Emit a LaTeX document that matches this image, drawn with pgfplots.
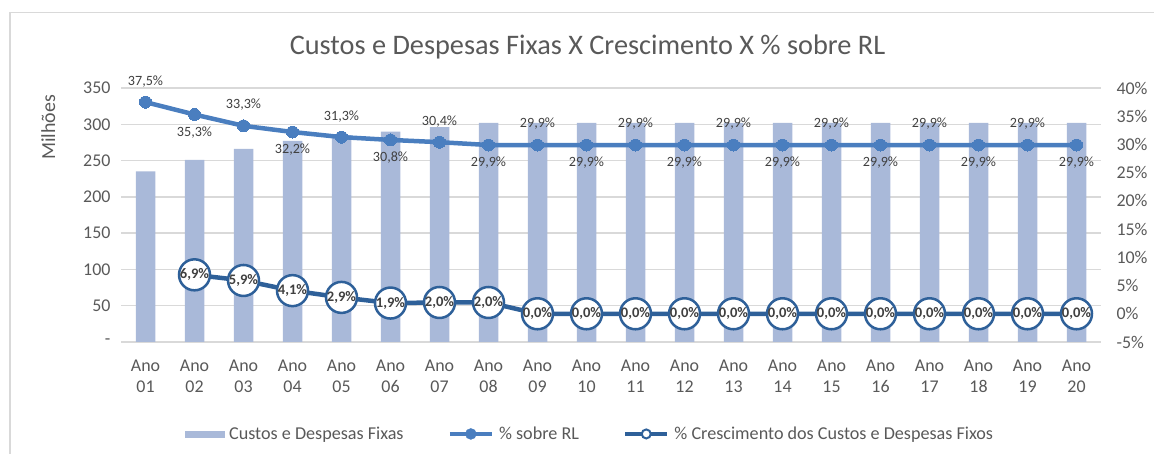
\documentclass[border=0pt]{standalone}
\usepackage{pgfplots}
\pgfplotsset{compat=1.18}
\usepackage{fontspec}
\setmainfont{Carlito}
\definecolor{txt}{HTML}{595959}
\definecolor{lbl}{HTML}{404040}
\definecolor{barc}{HTML}{A9B9D9}
\definecolor{lone}{HTML}{4A7EBF}
\definecolor{ltwo}{HTML}{2E6099}
\definecolor{gridc}{HTML}{D9D9D9}
\begin{document}
\begin{tikzpicture}
\path[use as bounding box] (0bp,0bp) rectangle (1154bp,454bp);
\draw[gridc, line width=1.5bp] (10bp,0bp) -- (10bp,441.5bp) -- (1154bp,441.5bp);
\node[text=txt, anchor=base, font=\fontsize{28.4}{32}\selectfont] at (587.5bp,399bp) {Custos e Despesas Fixas X Crescimento X \% sobre RL};
\node[text=txt, rotate=90, anchor=base, font=\fontsize{20}{24}\selectfont] at (55bp,326.5bp) {Milhões};

\begin{axis}[at={(121bp,112bp)}, anchor=south west, scale only axis, width=980bp, height=254bp,
  xmin=-0.5, xmax=19.5, ymin=0, ymax=350,
  axis line style={draw=none},
  ytick={0,50,...,350}, yticklabels={-,50,100,150,200,250,300,350},
  xtick={0,...,19},
  xticklabels={{Ano\\01},{Ano\\02},{Ano\\03},{Ano\\04},{Ano\\05},{Ano\\06},{Ano\\07},{Ano\\08},{Ano\\09},{Ano\\10},{Ano\\11},{Ano\\12},{Ano\\13},{Ano\\14},{Ano\\15},{Ano\\16},{Ano\\17},{Ano\\18},{Ano\\19},{Ano\\20}},
  major tick length=0,
  ymajorgrids, grid style={gridc, line width=1.3bp},
  tick label style={font=\fontsize{18}{22}\selectfont, text=txt},
  xticklabel style={align=center, yshift=-14bp},
  yticklabel style={xshift=-7bp},
  ybar, bar width=19.5bp,
  clip=false,
]
\addplot[fill=barc, draw=none] coordinates {(0,235) (1,251) (2,266) (3,277) (4,285) (5,290) (6,296) (7,302) (8,302) (9,302) (10,302) (11,302) (12,302) (13,302) (14,302) (15,302) (16,302) (17,302) (18,302) (19,302)};
\end{axis}

\begin{axis}[at={(121bp,112bp)}, anchor=south west, scale only axis, width=980bp, height=254bp,
  xmin=-0.5, xmax=19.5, ymin=-5, ymax=40,
  axis x line=none, axis y line*=right, axis line style={draw=none},
  ytick={-5,0,...,40}, yticklabels={-5\%,0\%,5\%,10\%,15\%,20\%,25\%,30\%,35\%,40\%},
  major tick length=0,
  tick label style={font=\fontsize{18}{22}\selectfont, text=txt},
  yticklabel style={anchor=west, xshift=12bp},
  clip=false,
  /pgf/number format/assume math mode=true,
  legend style={at={(0.4785,-0.362)}, anchor=center, draw=none, fill=none,
    legend columns=-1, font=\fontsize{18.2}{22}\selectfont, text=txt,
    /tikz/every odd column/.append style={column sep=3bp},
    /tikz/every even column/.append style={column sep=42bp}},
]
\addlegendimage{legend image code/.code={\fill[barc] (0bp,-3bp) rectangle (39bp,3bp);}}
\addlegendentry{Custos e Despesas Fixas}
\addlegendimage{legend image code/.code={\draw[lone, line width=4.5bp] (0bp,0bp) -- (42bp,0bp); \fill[lone] (21bp,0bp) circle (5.5bp);}}
\addlegendentry{\% sobre RL}
\addlegendimage{legend image code/.code={\draw[ltwo, line width=4.5bp] (0bp,0bp) -- (42bp,0bp); \filldraw[fill=white, draw=ltwo, line width=2bp] (21bp,0bp) circle (4.5bp);}}
\addlegendentry{\% Crescimento dos Custos e Despesas Fixos}

\addplot[forget plot, lone, line width=4.5bp, mark=*, mark size=6bp, mark options={fill=lone, draw=lone, line width=0bp}] coordinates {(0,37.5) (1,35.3) (2,33.3) (3,32.2) (4,31.3) (5,30.8) (6,30.4) (7,29.9) (8,29.9) (9,29.9) (10,29.9) (11,29.9) (12,29.9) (13,29.9) (14,29.9) (15,29.9) (16,29.9) (17,29.9) (18,29.9) (19,29.9)};
% labels above
\addplot[forget plot, draw=none, mark=none, point meta=y,
  nodes near coords={\pgfmathprintnumber[fixed,fixed zerofill,precision=1,use comma]{\pgfplotspointmeta}\%},
  every node near coord/.style={anchor=center, yshift=21bp, font=\fontsize{14.2}{16}\selectfont, text=lbl}]
  coordinates {(0,37.5) (2,33.3) (4,31.3) (6,30.4) (8,29.9) (10,29.9) (12,29.9) (14,29.9) (16,29.9) (18,29.9)};
% labels below
\addplot[forget plot, draw=none, mark=none, point meta=y,
  nodes near coords={\pgfmathprintnumber[fixed,fixed zerofill,precision=1,use comma]{\pgfplotspointmeta}\%},
  every node near coord/.style={anchor=center, yshift=-18bp, font=\fontsize{14.2}{16}\selectfont, text=lbl}]
  coordinates {(1,35.3) (3,32.2) (5,30.8) (7,29.9) (9,29.9) (11,29.9) (13,29.9) (15,29.9) (17,29.9) (19,29.9)};

\addplot[forget plot, ltwo, line width=4.5bp, mark=*, mark size=15.5bp, mark options={fill=white, draw=ltwo, line width=2.5bp}, point meta=y,
  nodes near coords={\pgfmathprintnumber[fixed,fixed zerofill,precision=1,use comma]{\pgfplotspointmeta}\%},
  every node near coord/.style={anchor=center, font=\bfseries\fontsize{14.6}{16}\selectfont, text=lbl}]
  coordinates {(1,6.9) (2,5.9) (3,4.1) (4,2.9) (5,1.9) (6,2.0) (7,2.0) (8,0.0) (9,0.0) (10,0.0) (11,0.0) (12,0.0) (13,0.0) (14,0.0) (15,0.0) (16,0.0) (17,0.0) (18,0.0) (19,0.0)};
\end{axis}
\end{tikzpicture}
\end{document}
